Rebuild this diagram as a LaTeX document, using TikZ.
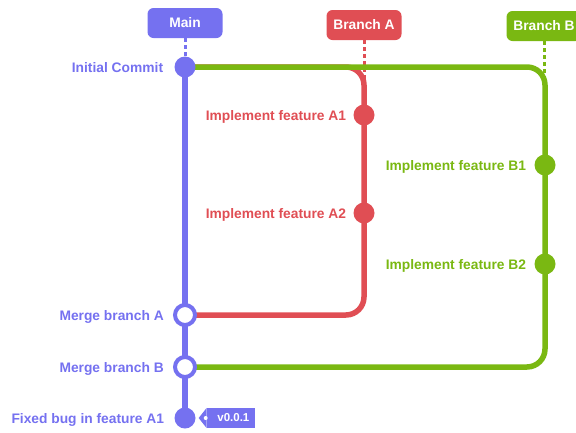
\documentclass[tikz,border=0pt]{standalone}
\usepackage{fontspec}
\setmainfont{Liberation Sans}
\usetikzlibrary{positioning,backgrounds}

\definecolor{mainc}{RGB}{117,113,240}
\definecolor{brancha}{RGB}{224,78,84}
\definecolor{branchb}{RGB}{122,184,18}

\tikzstyle{commit} = [circle, minimum size=21pt, inner sep=0pt]
\tikzstyle{merge} = [circle, minimum size=20pt, inner sep=0pt, fill=white, line width=4pt]
\tikzstyle{msg} = [font=\bfseries\fontsize{13.8}{16}\selectfont, inner sep=0pt, text height=10pt, text depth=0pt]
\tikzstyle{branchbox} = [rectangle, rounded corners=6pt, minimum width=75pt, minimum height=30pt, text=white, font=\bfseries\fontsize{13.8}{16}\selectfont]
\tikzstyle{line} = [line width=5.5pt, rounded corners=18pt]
\tikzstyle{link} = [line width=3pt, dash pattern=on 4pt off 3pt]
\tikzstyle{tagbox} = [rectangle, fill=mainc, text=white, minimum width=48pt, minimum height=20pt, inner sep=0pt, font=\bfseries\fontsize{11.5}{12}\selectfont]

\begin{document}
\begin{tikzpicture}[x=1pt, y=-1pt]
    \useasboundingbox (0,0) rectangle (576,432);

    % branch heads
    \node (mainbr) [branchbox, fill=mainc] at (185,23) {Main};
    \node (brA) [branchbox, fill=brancha] at (364,25) {Branch A};
    \node (brB) [branchbox, fill=branchb] at (544,26) {Branch B};

    % commits
    \node (init) [commit, fill=mainc] at (185,67) {};
    \node (a1) [commit, fill=brancha] at (364,115) {};
    \node (b1) [commit, fill=branchb] at (545,165) {};
    \node (a2) [commit, fill=brancha] at (364,213) {};
    \node (b2) [commit, fill=branchb] at (545,264) {};
    \node (mergeA) [merge, draw=mainc] at (185,315) {};
    \node (mergeB) [merge, draw=mainc] at (185,367) {};
    \node (fix) [commit, fill=mainc] at (185,418) {};

    \coordinate (endA) at (364,80);
    \coordinate (endB) at (544,78);

    % commit messages
    \node [msg, mainc, anchor=east, left=11pt of init] {Initial Commit};
    \node [msg, brancha, anchor=east, left=7pt of a1] {Implement feature A1};
    \node [msg, brancha, anchor=east, left=7pt of a2] {Implement feature A2};
    \node [msg, branchb, anchor=east, left=8pt of b1] {Implement feature B1};
    \node [msg, branchb, anchor=east, left=8pt of b2] {Implement feature B2};
    \node [msg, mainc, anchor=east, left=9pt of mergeA] {Merge branch A};
    \node [msg, mainc, anchor=east, left=9pt of mergeB] {Merge branch B};
    \node [msg, mainc, anchor=east, left=10pt of fix] {Fixed bug in feature A1};

    % tag
    \node (tag) [tagbox, right=11pt of fix] {\hspace{5pt}v0.0.1};
    \fill[mainc] (tag.north west) -- ([xshift=-8pt]tag.west) -- (tag.south west) -- cycle;
    \fill[white] ([xshift=-1pt]tag.west) circle (2pt);

    \begin{pgfonlayer}{background}
        \draw[link, mainc] (mainbr) -- (init);
        \draw[link, brancha] (brA) -- (endA);
        \draw[link, branchb] (brB) -- (endB);

        \draw[line, brancha] (init.center) -| (a1.center) -- (a2.center) |- (mergeA.center);
        \draw[line, branchb] (init.center) -| (b1.center) -- (b2.center) |- (mergeB.center);
        \draw[line, mainc, line width=6pt] (init.center) -- (fix.center);
    \end{pgfonlayer}
\end{tikzpicture}
\end{document}
